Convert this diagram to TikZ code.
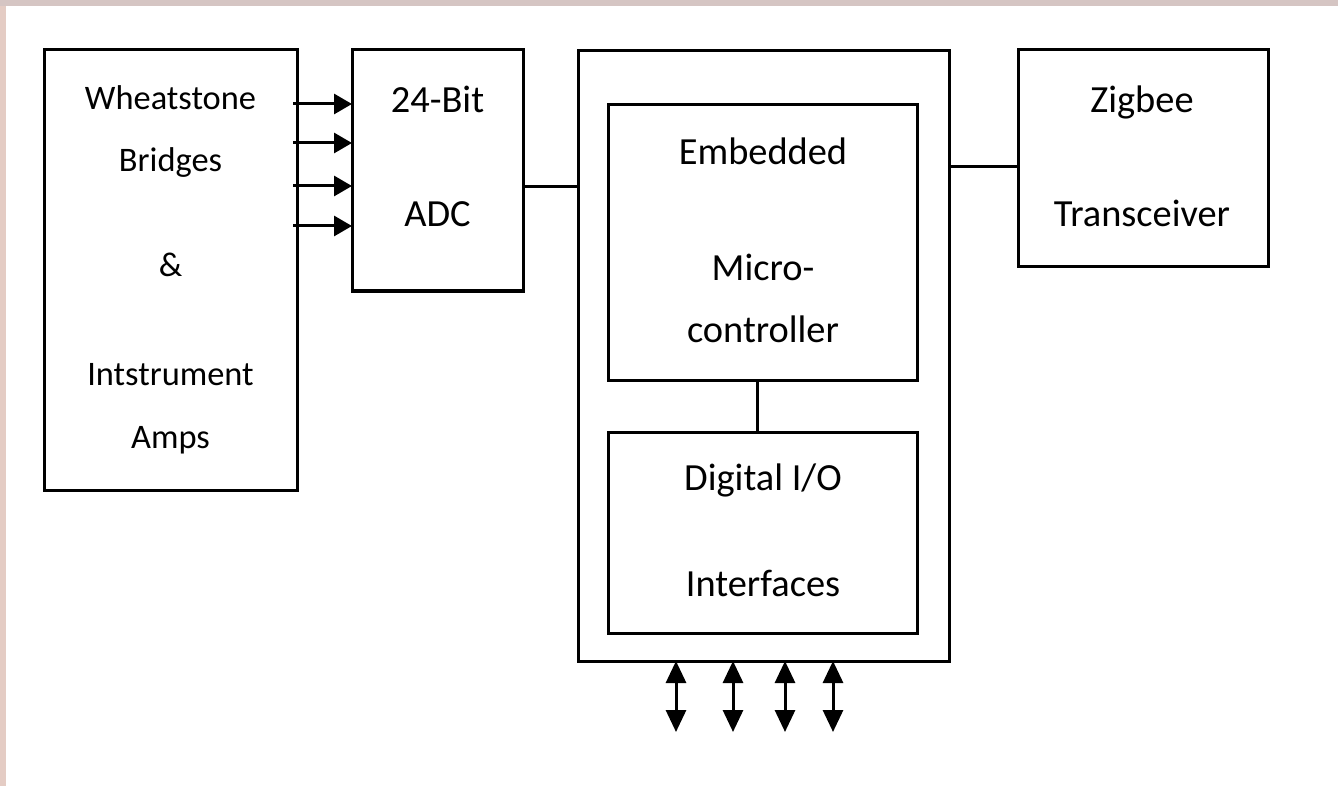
\documentclass[tikz,border=0pt]{standalone}
\usepackage{fontspec}
\setmainfont{Carlito}
\usetikzlibrary{arrows.meta}
\definecolor{stripA}{RGB}{213,197,195}
\definecolor{stripB}{RGB}{228,204,196}
\tikzset{
  box/.style={draw, line width=1.5pt, inner sep=0pt, outer sep=0pt},
  lbl/.style={anchor=base, inner sep=0pt, font=\fontsize{19.2}{22}\selectfont},
  lblsm/.style={anchor=base, inner sep=0pt, font=\fontsize{17.2}{20}\selectfont},
  conn/.style={line width=1.5pt},
  arr/.style={line width=1.5pt, -{Triangle[length=9pt,width=10pt]}},
  darr/.style={line width=1.5pt, {Triangle[length=11pt,width=10pt]}-{Triangle[length=11pt,width=10pt]}},
}
\begin{document}
\begin{tikzpicture}[x=0.5pt,y=-0.5pt]
\useasboundingbox (0,0) rectangle (1338,786);
\fill[white] (0,0) rectangle (1338,786);
\fill[stripB] (0,0) rectangle (6,786);
\fill[stripA] (0,0) rectangle (1338,6);

% boxes
\node[box, minimum width=126.5pt, minimum height=220pt] (wb) at (170.5,270) {};
\node[box, minimum width=85.5pt, minimum height=120.5pt] (adc) at (437.5,170.5) {};
\node[box, minimum width=185.5pt, minimum height=305pt] (outer) at (763.5,356) {};
\node[box, minimum width=154.5pt, minimum height=137.5pt] (emb) at (762.5,242.5) {};
\node[box, minimum width=154.5pt, minimum height=100.5pt] (dio) at (762.5,532.5) {};
\node[box, minimum width=125pt, minimum height=108.5pt] (zig) at (1143,158.5) {};

% labels
\node[lblsm] (t1) at (170.5,110) {Wheatstone};
\node[lblsm] (t2) at (170.5,172) {Bridges};
\node[lblsm] (t3) at (170.5,277) {\&};
\node[lblsm] (t4) at (170.5,385) {Intstrument};
\node[lblsm] (t5) at (170.5,448) {Amps};
\node[lbl] (t6) at (437.5,113) {24-Bit};
\node[lbl] (t7) at (437.5,227) {ADC};
\node[lbl] (t8) at (763,165) {Embedded};
\node[lbl] (t9) at (763,280) {Micro-};
\node[lbl] (t10) at (763,343) {controller};
\node[lbl] (t11) at (763,490) {Digital I/O};
\node[lbl] (t12) at (763,596) {Interfaces};
\node[lbl] (t13) at (1142,113) {Zigbee};
\node[lbl] (t14) at (1142,227) {Transceiver};

% connectors
\draw[conn] (adc.east |- 0,187) -- (outer.west |- 0,187);
\draw[conn] (outer.east |- 0,167) -- (zig.west |- 0,167);
\draw[conn] (emb.south -| 757,0) -- (dio.north -| 757,0);

% input arrows
\foreach \yy/\nm in {104/a1,143/a2,186/a3,226/a4}{
  \coordinate (\nm s) at (293,\yy);
  \draw[arr] (\nm s) -- (adc.west |- \nm s);
}
% I/O arrows
\foreach \xx/\nm in {676/b1,733/b2,785/b3,833/b4}{
  \coordinate (\nm e) at (\xx,732);
  \draw[darr] (outer.south -| \nm e) -- (\nm e);
}
\end{tikzpicture}
\end{document}
